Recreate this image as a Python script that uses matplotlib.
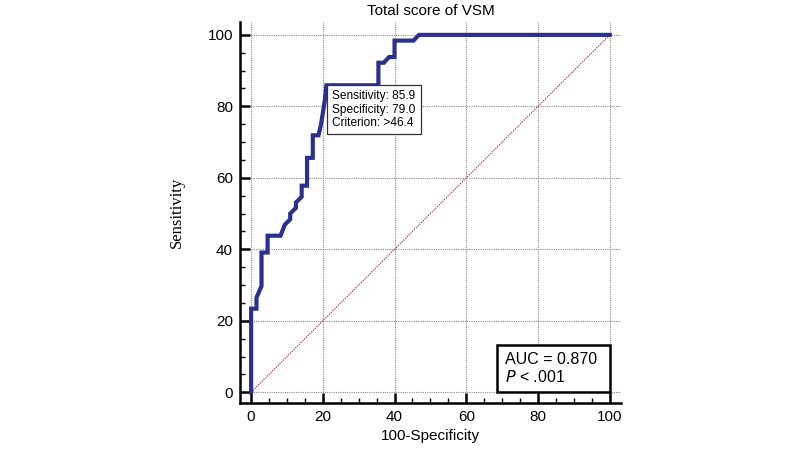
import numpy as np
import matplotlib.pyplot as plt
from matplotlib.patches import Rectangle
from matplotlib.ticker import MultipleLocator

plt.rcParams['font.family'] = ['Liberation Sans', 'DejaVu Sans']

# ROC curve (100-Specificity, Sensitivity)
fpr = [0, 0, 1.5, 1.5, 2.9, 2.9, 4.6, 4.6, 8.2, 9.4, 10.9, 10.9, 12.5, 12.5,
       14.1, 14.1, 15.6, 15.6, 17.2, 17.2, 18.8, 19.5, 20.5, 21.0, 35.5, 35.5,
       37.0, 38.5, 40.0, 40.0, 45.3, 46.8, 100]
tpr = [0, 23.4, 23.4, 26.5, 29.7, 39.1, 39.1, 43.8, 43.8, 46.9, 48.4, 50.0,
       51.6, 53.1, 54.7, 57.8, 57.8, 65.6, 65.6, 71.9, 71.9, 75.0, 81.3, 85.9,
       85.9, 92.2, 92.2, 93.8, 93.8, 98.4, 98.4, 100, 100]
crit_x, crit_y = 21.0, 85.9
crit_lines = ['Sensitivity: 85.9', 'Specificity: 79.0', 'Criterion: >46.4']
auc_text = 'AUC = 0.870\n$P$ < .001'

fig = plt.figure(figsize=(8, 4.53), dpi=100)
ax = fig.add_axes([0.3, 0.1104, 0.476, 0.841])

ax.plot([0, 100], [0, 100], color='#b0304a', lw=0.9, ls=(0, (1, 1)), zorder=2)
ax.plot(fpr, tpr, color='#2b2f8f', lw=3, solid_joinstyle='miter', zorder=3)

ax.set_xlim(-3.1, 103.1)
ax.set_ylim(-3.0, 103.6)
ax.xaxis.set_major_locator(MultipleLocator(20))
ax.yaxis.set_major_locator(MultipleLocator(20))
ax.xaxis.set_minor_locator(MultipleLocator(5))
ax.yaxis.set_minor_locator(MultipleLocator(5))
ax.grid(True, which='major', color='#8a8a8a', ls=(0, (1, 1)), lw=0.8)
ax.set_axisbelow(True)

for s in ['top', 'right']:
    ax.spines[s].set_visible(False)
for s in ['left', 'bottom']:
    ax.spines[s].set_linewidth(1.8)
ax.tick_params(which='major', direction='in', length=7, width=1.8,
               labelsize=11, pad=5)
ax.tick_params(which='minor', direction='in', length=3.5, width=1)

ax.set_title('Total score of VSM', fontsize=11, pad=5)
ax.set_xlabel('100-Specificity', fontsize=11, labelpad=4)
ax.set_ylabel('Sensitivity', fontsize=12, labelpad=16,
              family=['Liberation Serif', 'DejaVu Serif'])

# criterion box, top-left corner sits on the cut-off point
ax.annotate('\n'.join(crit_lines), xy=(crit_x, crit_y),
            xytext=(4.2, -3.2), textcoords='offset points', ha='left', va='top',
            fontsize=8.6, linespacing=1.2, zorder=5,
            bbox=dict(boxstyle='square,pad=0.42', fc='white', ec='#333333', lw=0.9))

# AUC box in lower right
ax.add_patch(Rectangle((68.5, 0.2), 31.5, 13.0, fc='white', ec='black',
                       lw=1.8, zorder=4))
ax.text(70.8, 6.7, auc_text, ha='left', va='center', fontsize=11.5,
        linespacing=1.2, zorder=5)

fig.savefig('out.png', dpi=100)
